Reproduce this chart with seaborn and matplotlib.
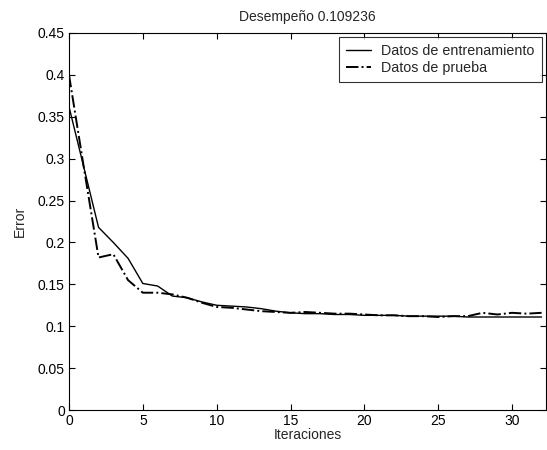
import pandas as pd
import matplotlib
matplotlib.use('Agg')
import matplotlib.pyplot as plt
import seaborn as sns

# Datos
iteraciones = list(range(33))
entrenamiento = [0.362, 0.29, 0.218, 0.200, 0.181, 0.151, 0.148, 0.136, 0.134, 0.129,
                 0.125, 0.124, 0.123, 0.121, 0.118, 0.116, 0.115, 0.115, 0.114, 0.114,
                 0.113, 0.113, 0.113, 0.112, 0.112, 0.112, 0.112, 0.111, 0.111, 0.111,
                 0.111, 0.111, 0.111]
prueba = [0.400, 0.29, 0.182, 0.186, 0.155, 0.140, 0.140, 0.138, 0.134, 0.128,
          0.123, 0.122, 0.120, 0.118, 0.117, 0.116, 0.117, 0.116, 0.115, 0.115,
          0.114, 0.113, 0.113, 0.112, 0.112, 0.111, 0.112, 0.112, 0.116, 0.114,
          0.116, 0.115, 0.116]
titulo = "Desempeño 0.109236"
etiquetas = ["Datos de entrenamiento", "Datos de prueba"]

sns.set_theme(style="white")
plt.rcParams['font.family'] = ['Liberation Sans', 'DejaVu Sans']

fig = plt.figure(figsize=(5.47, 4.5), dpi=100)
ax = fig.add_axes([69 / 547, 40 / 450, (546 - 69) / 547, (410 - 33) / 450])

sns.lineplot(x=iteraciones, y=entrenamiento, ax=ax, color='black', linewidth=1.0,
             linestyle='-', label=etiquetas[0])
sns.lineplot(x=iteraciones, y=prueba, ax=ax, color='black', linewidth=1.4,
             linestyle='-.', label=etiquetas[1])

ax.set_xlim(0, 32.3)
ax.set_ylim(0, 0.45)
ax.set_xticks([0, 5, 10, 15, 20, 25, 30])
ax.set_yticks([0, 0.05, 0.1, 0.15, 0.2, 0.25, 0.3, 0.35, 0.4, 0.45])
ax.set_yticklabels(['0', '0.05', '0.1', '0.15', '0.2', '0.25', '0.3', '0.35', '0.4', '0.45'])
ax.tick_params(direction='in', length=4, width=0.8, colors='black', labelsize=10,
               top=True, right=True, bottom=True, left=True, pad=3)
for s in ax.spines.values():
    s.set_color('black')
    s.set_linewidth(0.8)

ax.set_title(titulo, fontsize=10, pad=9)
ax.set_xlabel("Iteraciones", fontsize=10, labelpad=0)
ax.set_ylabel("Error", fontsize=10, labelpad=8)

leg = ax.legend(loc='upper right', fontsize=10.3, frameon=True, fancybox=False,
                borderaxespad=0.3, handlelength=1.75, handletextpad=0.7,
                borderpad=0.5, labelspacing=0.2)
leg.get_frame().set_edgecolor('black')
leg.get_frame().set_linewidth(0.8)

fig.savefig('out.png', dpi=100)
